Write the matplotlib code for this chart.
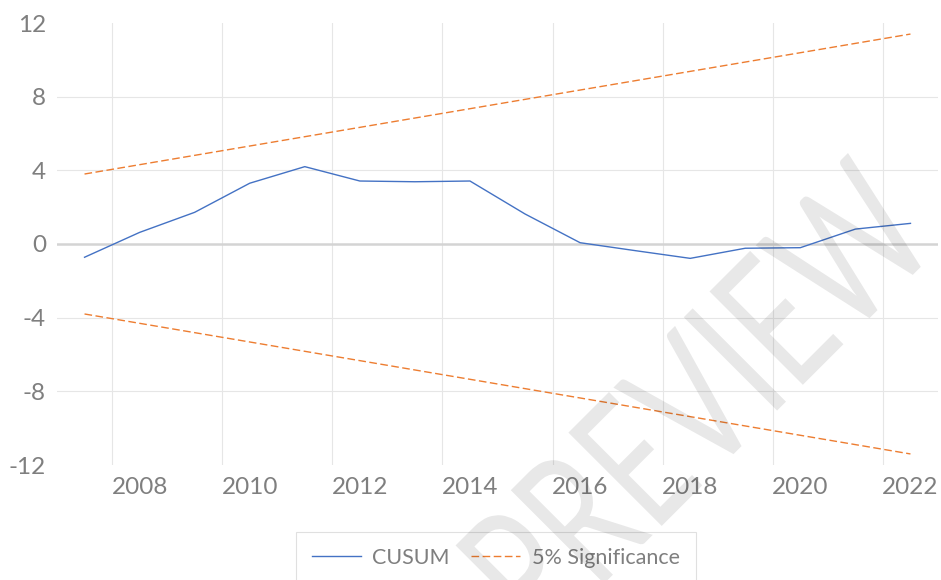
import matplotlib.pyplot as plt
from matplotlib.font_manager import FontProperties
from matplotlib.patches import PathPatch
from matplotlib.textpath import TextPath
from matplotlib.transforms import Affine2D, IdentityTransform

# CUSUM test values
years = [2007, 2008, 2009, 2010, 2011, 2012, 2013, 2014,
         2015, 2016, 2017, 2018, 2019, 2020, 2021, 2022]
cusum = [-0.72, 0.63, 1.72, 3.30, 4.20, 3.42, 3.38, 3.42,
         1.63, 0.07, -0.36, -0.78, -0.23, -0.20, 0.81, 1.12]

# 5% significance bounds (straight lines between first and last year)
bound_years = [2007, 2022]
upper_bound = [3.8, 11.4]
lower_bound = [-3.8, -11.4]

y_ticks = [-12, -8, -4, 0, 4, 8, 12]
x_ticks = [2008, 2010, 2012, 2014, 2016, 2018, 2020, 2022]

TICK_COLOR = "#7f7f7f"
GRID_COLOR = "#e6e6e6"

plt.rcParams["font.family"] = ["Lato", "DejaVu Sans"]


def add_watermark(fig, text="PREVIEW"):
    # tall, narrow rotated watermark, placed in pixel coordinates
    prop = FontProperties(family="Lato")
    path = TextPath((0, 0), text, size=100, prop=prop)
    box = path.get_extents()
    cap = TextPath((0, 0), "I", size=100, prop=prop).get_extents().y1
    sx = 555 / box.width
    sy = 132 / cap
    trans = (
        Affine2D()
        .translate(-box.x1, -cap)
        .scale(sx, sy)
        .rotate_deg(45)
        .translate(848, 580 - 153)
    )
    patch = PathPatch(trans.transform_path(path), facecolor="black", alpha=0.09,
                      lw=0, transform=IdentityTransform(), zorder=10)
    fig.patches.append(patch)


def build_chart() -> None:
    fig = plt.figure(figsize=(9.41, 5.80), dpi=100)
    ax = fig.add_axes([57 / 941, 115 / 580, 881 / 941, 442 / 580])

    for y in y_ticks:
        if y in (0, -12, 12):
            continue
        ax.axhline(y, color=GRID_COLOR, lw=0.8, zorder=1)
    for x in x_ticks:
        ax.axvline(x - 0.5, color=GRID_COLOR, lw=0.8, zorder=1)
    ax.axhline(0, color="#d4d4d4", lw=1.8, zorder=2)

    ax.plot(years, cusum, color="#4472C4", lw=1.0, label="CUSUM", zorder=3)
    ax.plot(bound_years, upper_bound, color="#ED7D31", lw=1.0,
            ls=(0, (5.5, 2.5)), label="5% Significance", zorder=3)
    ax.plot(bound_years, lower_bound, color="#ED7D31", lw=1.0,
            ls=(0, (5.5, 2.5)), zorder=3)

    ax.set_xlim(2006.5, 2022.5)
    ax.set_ylim(-12, 12)
    ax.set_xticks(x_ticks)
    ax.set_xticklabels([str(v) for v in x_ticks])
    ax.set_yticks(y_ticks)
    ax.set_yticklabels([str(v) for v in y_ticks])
    ax.tick_params(axis="both", length=0, labelsize=17.5, colors=TICK_COLOR)
    ax.tick_params(axis="y", pad=8)
    ax.tick_params(axis="x", pad=9)
    for spine in ax.spines.values():
        spine.set_visible(False)

    leg = fig.legend(
        loc="center",
        bbox_to_anchor=(0.527, 0.038),
        ncol=2,
        frameon=True,
        fancybox=False,
        edgecolor="#d9d9d9",
        fontsize=15.5,
        labelcolor=TICK_COLOR,
        handlelength=2.25,
        handletextpad=0.55,
        columnspacing=1.0,
        borderpad=0.75,
    )
    leg.get_frame().set_linewidth(0.8)

    add_watermark(fig)

    fig.savefig("out.png", dpi=100)
    plt.close(fig)


if __name__ == "__main__":
    build_chart()
